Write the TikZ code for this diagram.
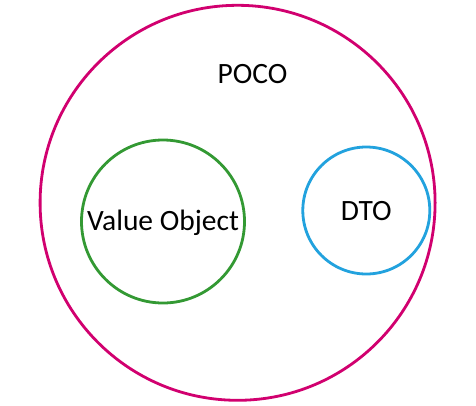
\documentclass[tikz,border=0pt]{standalone}
\usepackage{fontspec}
\setmainfont{Carlito}
\definecolor{pocoC}{HTML}{D1006F}
\definecolor{voC}{HTML}{339933}
\definecolor{dtoC}{HTML}{22A2DE}
\begin{document}
\begin{tikzpicture}[x=1pt,y=-1pt,
  ring/.style={circle,draw,line width=2.8pt,inner sep=0pt,minimum size=#1},
  lbl/.style={anchor=base,inner sep=0pt,font=\fontsize{29.5}{34}\selectfont}]
\useasboundingbox[fill=white] (0,0) rectangle (476,405);
\node[ring=395pt,draw=pocoC] (poco) at (237.6,202.8) {};
\node[ring=163pt,draw=voC] (vo) at (163,221.5) {};
\node[ring=127pt,draw=dtoC] (dto) at (366.3,210.5) {};
\node[lbl] (pocol) at (252.5,83) {POCO};
\node[lbl] (vol) at (163,230.7) {Value Object};
\node[lbl] (dtol) at (366.3,220) {DTO};
\end{tikzpicture}
\end{document}
